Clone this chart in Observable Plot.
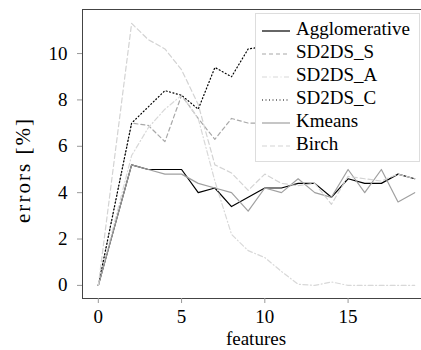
<!DOCTYPE html>
<html><head><meta charset="utf-8">
<script src="https://cdn.jsdelivr.net/npm/d3@7"></script>
<script src="https://cdn.jsdelivr.net/npm/@observablehq/plot@0.6"></script>
<style>
html,body{margin:0;padding:0;overflow:hidden;background:#fff}
#chart svg{max-width:none !important;display:block}
#chart svg text{font-family:"Liberation Serif","Times New Roman","DejaVu Serif",serif !important}
</style>
</head><body><div id="chart"></div>
<script>
const features = [0,2,3,4,5,6,7,8,9,10,11,12,13,14,15,16,17,18,19];
const seriesNames = ["Agglomerative","SD2DS_S","SD2DS_A","SD2DS_C","Kmeans","Birch"];
const agglomerative = [0,5.2,5.0,5.0,5.0,4.0,4.2,3.4,3.8,4.2,4.2,4.4,4.4,3.8,4.6,4.4,4.4,4.8,4.6];
const sd2dsS = [0,7.0,6.9,6.2,8.2,7.2,6.3,7.2,7.0,7.0,6.9,7.0,7.0,7.0,7.0,7.0,7.0,7.0,7.0];
const sd2dsA = [0,5.6,6.8,7.6,8.2,7.2,4.5,2.2,1.5,1.2,0.6,0.05,0.0,0.15,0.0,0.0,0.0,0.0,0.0];
const sd2dsC = [0,7.0,7.7,8.4,8.2,7.6,9.4,9.0,10.2,10.3,10.5,10.4,10.6,10.5,10.7,10.6,10.8,10.7,10.9];
const kmeans = [0,5.2,5.0,4.8,4.8,4.4,4.2,4.0,3.2,4.2,4.0,4.6,4.0,3.8,5.0,4.0,5.0,3.6,4.0];
const birch = [0,11.3,10.6,10.2,9.3,7.8,5.2,4.85,4.1,4.8,4.4,4.3,4.4,3.5,4.7,4.6,4.5,4.8,4.6];
const xTicks = [0,5,10,15];
const yTicks = [0,2,4,6,8,10];
const xLabel = "features";
const yLabel = "errors [%]";

const seriesValues = [agglomerative, sd2dsS, sd2dsA, sd2dsC, kmeans, birch];
const styles = {
  Agglomerative: {stroke: "#000", dash: null},
  SD2DS_S: {stroke: "#a8a8a8", dash: "4,3"},
  SD2DS_A: {stroke: "#d8d8d8", dash: "5,2.5,1,2.5"},
  SD2DS_C: {stroke: "#000", dash: "1,2.5"},
  Kmeans: {stroke: "#a0a0a0", dash: null},
  Birch: {stroke: "#d3d3d3", dash: "5,3"}
};

const data = [];
seriesNames.forEach((name, k) => seriesValues[k].forEach((v, i) => data.push({series: name, x: features[i], y: v})));

const font = "Liberation Serif, Times New Roman, DejaVu Serif, serif";
const plot = Plot.plot({
  width: 430, height: 350,
  marginLeft: 82, marginRight: 0, marginTop: 9, marginBottom: 52,
  x: {domain: [-0.95, 19.95]},
  y: {domain: [-0.565, 11.9]},
  style: {fontFamily: font, fontSize: "19px", background: "#fff", color: "#000"},
  marks: [
    ...seriesNames.map(name => Plot.line(data.filter(d => d.series === name), {
      x: "x", y: "y", stroke: styles[name].stroke, strokeWidth: 1.2,
      strokeDasharray: styles[name].dash
    })),
    Plot.frame({stroke: "#444"}),
    Plot.axisX({ticks: xTicks, tickSize: 5, tickPadding: 6, label: null, stroke: "#999", fill: "#000", fontSize: 19}),
    Plot.axisY({ticks: yTicks, tickSize: 5, tickPadding: 10, label: null, stroke: "#999", fill: "#000", fontSize: 19})
  ]
});
document.getElementById("chart").appendChild(plot);

const svg = d3.select(plot);
svg.append("text").attr("x", 256).attr("y", 341).attr("text-anchor", "middle")
  .attr("dominant-baseline", "middle").attr("font-size", 19).attr("fill", "#000").text(xLabel);
svg.append("text").attr("transform", "translate(25,171) rotate(-90)").attr("text-anchor", "middle")
  .attr("dominant-baseline", "middle").attr("font-size", 21).attr("fill", "#000")
  .attr("textLength", 104).attr("lengthAdjust", "spacing").text(yLabel);

const lg = svg.append("g");
lg.append("rect").attr("x", 255.5).attr("y", 13.5).attr("width", 164).attr("height", 148)
  .attr("fill", "#fff").attr("stroke", "#ddd");
seriesNames.forEach((name, k) => {
  const cy = 31 + 23 * k;
  lg.append("line").attr("x1", 262).attr("x2", 290).attr("y1", cy).attr("y2", cy)
    .attr("stroke", styles[name].stroke).attr("stroke-width", 1.2)
    .attr("stroke-dasharray", styles[name].dash);
  lg.append("text").attr("x", 296).attr("y", cy).attr("dominant-baseline", "middle")
    .attr("text-anchor", "start").attr("font-size", 19).attr("fill", "#000").text(name);
});
</script></body></html>
